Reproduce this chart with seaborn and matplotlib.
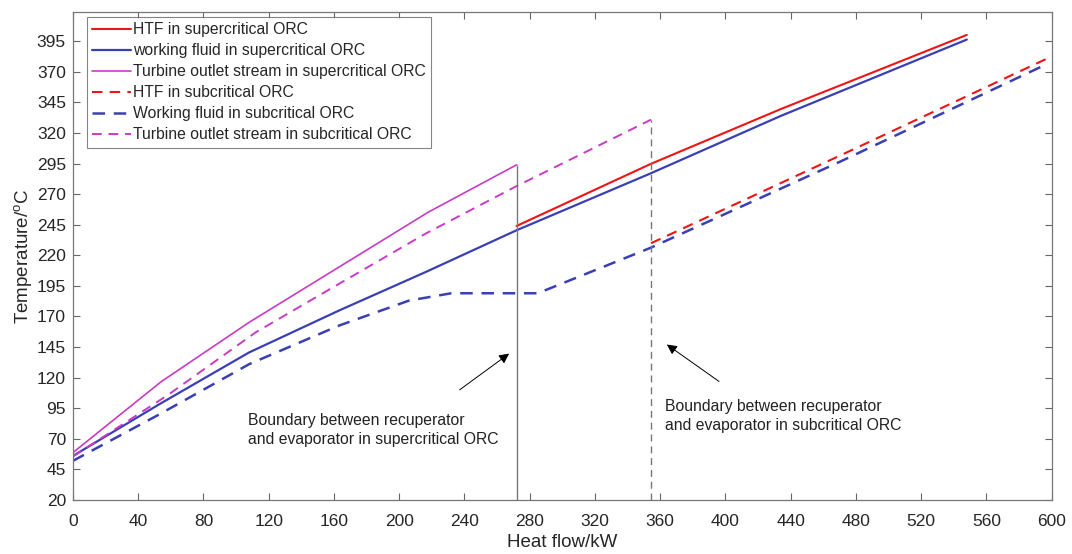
import numpy as np
import pandas as pd
import seaborn as sns
import matplotlib.pyplot as plt

# heat flow (kW) / temperature (degC)
htf_super_q = [272, 354, 434, 548]
htf_super_t = [244, 294.6, 339.6, 400.2]
wf_super_q = [0, 53, 108, 163, 216, 272, 354, 434, 548]
wf_super_t = [56, 98.3, 140.6, 174.8, 206.2, 240.5, 286.9, 334, 396.4]
turb_super_q = [0, 54, 108, 163, 218, 272]
turb_super_t = [58.7, 116.6, 165.2, 210.3, 255.4, 294]

htf_sub_q = [354.4, 471, 596.3]
htf_sub_t = [229.9, 302, 380.3]
wf_sub_q = [0, 53, 108, 163, 206, 232, 285, 354.4, 471, 596.3]
wf_sub_t = [52, 90, 131, 162.5, 183, 189, 189, 226.3, 297, 375.9]
turb_sub_q = [0, 59, 112, 163, 216, 272, 354.4]
turb_sub_t = [55.5, 106.5, 157, 196.6, 237.6, 276.6, 330.9]

red = "#f01414"
blue = "#3a40b4"
magenta = "#c83cc3"

sns.set_theme(style="ticks")
plt.rcParams["font.family"] = ["Liberation Sans", "DejaVu Sans"]

fig = plt.figure(figsize=(10.72, 5.54), dpi=100)
ax = fig.add_axes([0.068, 0.0975, 0.913, 0.881])

series = [
    (htf_super_q, htf_super_t, red, "-", 1.5, "HTF in supercritical ORC"),
    (wf_super_q, wf_super_t, blue, "-", 1.6, "working fluid in supercritical ORC"),
    (turb_super_q, turb_super_t, magenta, "-", 1.2, "Turbine outlet stream in supercritical ORC"),
    (htf_sub_q, htf_sub_t, red, "--", 1.5, "HTF in subcritical ORC"),
    (wf_sub_q, wf_sub_t, blue, "--", 1.8, "Working fluid in subcritical ORC"),
    (turb_sub_q, turb_sub_t, magenta, "--", 1.4, "Turbine outlet stream in subcritical ORC"),
]
for q, t, c, ls, lw, lab in series:
    df = pd.DataFrame({"q": q, "t": t})
    sns.lineplot(data=df, x="q", y="t", color=c, linestyle=ls, linewidth=lw,
                 label=lab, estimator=None, sort=False, ax=ax)
for line in ax.get_lines():
    if line.get_linestyle() == "--":
        line.set_dashes([5, 3.5])

ax.set_xlim(0, 600)
ax.set_ylim(20, 419)

# recuperator/evaporator boundaries
ax.vlines(turb_super_q[-1], 20, turb_super_t[-1], color="#777777", lw=1.0)
ax.vlines(turb_sub_q[-1], 20, turb_sub_t[-1], color="#777777", lw=1.0,
          linestyles=(0, (5, 3.5)))

ax.annotate("", xy=(268.8, 141), xytext=(235.7, 108.7),
            arrowprops=dict(arrowstyle="-|>", color="black", lw=0.7,
                            mutation_scale=15))
ax.text(107.4, 77.3, "Boundary between recuperator\nand evaporator in supercritical ORC",
        fontsize=11.3, va="center", ha="left", color="#222222", linespacing=1.3)
ax.annotate("", xy=(362.7, 148.4), xytext=(397.5, 115.6),
            arrowprops=dict(arrowstyle="-|>", color="black", lw=0.7,
                            mutation_scale=15))
ax.text(363.2, 88.8, "Boundary between recuperator\nand evaporator in subcritical ORC",
        fontsize=11.3, va="center", ha="left", color="#222222", linespacing=1.3)

ax.set_xticks(np.arange(0, 601, 40))
ax.set_yticks(np.arange(20, 400, 25))
ax.tick_params(direction="in", top=True, right=True, length=5, width=0.8,
               color="#666666", labelsize=12.5, labelcolor="#262626")
ax.tick_params(axis="x", pad=10)
ax.tick_params(axis="y", pad=5)
for s in ax.spines.values():
    s.set_visible(True)
    s.set_color("#777777")
    s.set_linewidth(0.9)

ax.set_xlabel("Heat flow/kW", fontsize=13.5, color="#262626", labelpad=4)
ax.set_ylabel("Temperature/$\\mathregular{^{o}}$C", fontsize=13.5, color="#262626", labelpad=2)

leg = ax.legend(loc="upper left", bbox_to_anchor=(0.014, 0.99), fontsize=11.3,
                frameon=True, fancybox=False, edgecolor="#666666",
                handlelength=2.5, handletextpad=0.1, labelspacing=0.38,
                borderpad=0.35, borderaxespad=0)
leg.get_frame().set_linewidth(0.8)

fig.savefig("out.png", dpi=100)
